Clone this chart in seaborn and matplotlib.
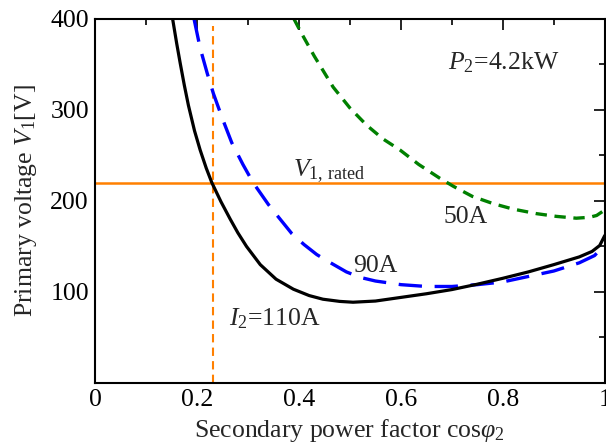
import matplotlib
matplotlib.use("Agg")
import matplotlib.pyplot as plt
from matplotlib.ticker import MultipleLocator, FixedLocator
import seaborn as sns
import pandas as pd

# ---- data ----
x_110 = [0.152, 0.16, 0.167, 0.175, 0.183, 0.195, 0.206, 0.218, 0.229, 0.247, 0.265,
         0.28, 0.297, 0.324, 0.355, 0.389, 0.42, 0.447, 0.48, 0.506, 0.55, 0.6,
         0.65, 0.7, 0.75, 0.8, 0.85, 0.9, 0.95, 0.975, 0.99, 1.0]
v_110 = [400, 373, 351, 327, 305, 277, 256, 236, 220, 199, 180,
         165, 150, 130, 114, 103, 96, 92, 89.6, 88.7, 90, 94,
         98, 102.6, 108.5, 115, 122, 130, 138.5, 144.5, 151, 162]

x_90 = [0.194, 0.206, 0.22, 0.232, 0.25, 0.268, 0.29, 0.31, 0.34, 0.36, 0.386, 0.41,
        0.435, 0.465, 0.493, 0.52, 0.55, 0.6, 0.65, 0.7, 0.75, 0.8, 0.85, 0.9,
        0.95, 0.98, 1.0]
v_90 = [400, 368, 340, 318, 290, 264, 240, 220, 196, 182, 164, 152,
        141, 131, 122, 116, 112, 108, 106, 106, 108, 111, 117, 123,
        132, 140, 152]

x_50 = [0.39, 0.405, 0.43, 0.467, 0.5, 0.533, 0.565, 0.598, 0.635, 0.676, 0.703,
        0.74, 0.781, 0.82, 0.866, 0.905, 0.944, 0.97, 0.984, 1.0]
v_50 = [400, 384, 359, 325, 302, 283, 268, 256, 240, 225, 216,
        205, 197, 191, 186, 183, 181, 182, 184, 190]

v_rated = 220
pf_rated = 0.232

x_ticks = [0, 0.2, 0.4, 0.6, 0.8, 1]
x_tick_labels = ["0", "0.2", "0.4", "0.6", "0.8", "1"]
y_ticks = [100, 200, 300, 400]
y_tick_labels = ["100", "200", "300", "400"]

df110 = pd.DataFrame({"pf": x_110, "V": v_110})
df90 = pd.DataFrame({"pf": x_90, "V": v_90})
df50 = pd.DataFrame({"pf": x_50, "V": v_50})

sns.set_theme(style="white")
plt.rcParams["font.family"] = ["Liberation Serif", "DejaVu Serif"]
plt.rcParams["mathtext.fontset"] = "custom"
plt.rcParams["mathtext.rm"] = "Liberation Serif"
plt.rcParams["mathtext.it"] = "Liberation Serif:italic"
plt.rcParams["mathtext.bf"] = "Liberation Serif:bold"

FS = 18.5

fig = plt.figure(figsize=(6.06, 4.43), dpi=100)
ax = fig.add_axes([0.157, 0.1355, 0.841, 0.822])

ax.axhline(v_rated, color="#ff8000", lw=1.8, zorder=1)
ax.axvline(pf_rated, ymin=0, ymax=0.98, color="#ff8000", lw=1.5,
           dashes=(4, 2.5), zorder=1)

sns.lineplot(data=df50, x="pf", y="V", ax=ax, color="#008000", lw=2.4,
             sort=False, estimator=None)
ax.lines[-1].set_dashes((3.4, 2.3))
sns.lineplot(data=df90, x="pf", y="V", ax=ax, color="#0000ff", lw=2.4,
             sort=False, estimator=None)
ax.lines[-1].set_dashes((7, 3.8))
sns.lineplot(data=df110, x="pf", y="V", ax=ax, color="black", lw=2.3,
             sort=False, estimator=None)

ax.set_xlim(0, 1)
ax.set_ylim(0, 400)
ax.xaxis.set_major_locator(FixedLocator(x_ticks))
ax.set_xticklabels(x_tick_labels)
ax.xaxis.set_minor_locator(MultipleLocator(0.1))
ax.yaxis.set_major_locator(FixedLocator(y_ticks))
ax.set_yticklabels(y_tick_labels)
ax.yaxis.set_minor_locator(MultipleLocator(50))

ax.tick_params(which="both", direction="in", top=True, right=True,
               labelsize=FS, colors="black", pad=4.5)
ax.tick_params(which="major", length=8, width=1.2)
ax.tick_params(which="minor", length=4.5, width=1.2)
for s in ax.spines.values():
    s.set_linewidth(1.5)
    s.set_color("black")

ax.set_xlabel(r"Secondary power factor cos$\varphi_2$", fontsize=FS, labelpad=4)
ax.set_ylabel(r"Primary voltage $V_1$[V]", fontsize=FS, labelpad=8)

ax.text(0.692, 352, r"$P_2$=4.2kW", fontsize=FS, va="center", ha="left")
ax.text(0.388, 233, r"$V_{1,\,\mathrm{rated}}$", fontsize=FS, va="center", ha="left")
ax.text(0.684, 182, "50A", fontsize=FS, va="center", ha="left")
ax.text(0.506, 129, "90A", fontsize=FS, va="center", ha="left")
ax.text(0.263, 71, r"$I_2$=110A", fontsize=FS, va="center", ha="left")

fig.savefig("out.png", dpi=100)
